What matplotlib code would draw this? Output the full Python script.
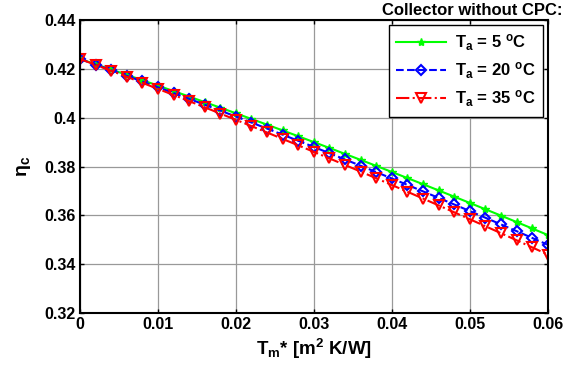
import matplotlib
matplotlib.use("Agg")
import matplotlib.pyplot as plt

plt.rcParams['font.family'] = ['Liberation Sans', 'DejaVu Sans']
plt.rcParams['mathtext.fontset'] = 'custom'
plt.rcParams['mathtext.rm'] = 'Liberation Sans:bold'
plt.rcParams['mathtext.it'] = 'Liberation Sans:bold'
plt.rcParams['mathtext.bf'] = 'Liberation Sans:bold'

x_tm = [0.000, 0.002, 0.004, 0.006, 0.008, 0.010, 0.012, 0.014, 0.016, 0.018,
        0.020, 0.022, 0.024, 0.026, 0.028, 0.030, 0.032, 0.034, 0.036, 0.038,
        0.040, 0.042, 0.044, 0.046, 0.048, 0.050, 0.052, 0.054, 0.056, 0.058, 0.060]

eta_5 = [0.4240, 0.42186, 0.41970, 0.41752, 0.41532, 0.41311, 0.41088, 0.40863,
         0.40636, 0.40408, 0.40178, 0.39946, 0.39712, 0.39476, 0.39239, 0.39000,
         0.38759, 0.38516, 0.38272, 0.38026, 0.37778, 0.37528, 0.37277, 0.37023,
         0.36768, 0.36511, 0.36252, 0.35992, 0.35730, 0.35466, 0.35200]

eta_20 = [0.4240, 0.42173, 0.41943, 0.41712, 0.41479, 0.41244, 0.41008, 0.40770,
          0.40529, 0.40288, 0.40045, 0.39799, 0.39552, 0.39303, 0.39052, 0.38800,
          0.38546, 0.38289, 0.38032, 0.37773, 0.37511, 0.37248, 0.36984, 0.36716,
          0.36448, 0.36178, 0.35905, 0.35632, 0.35357, 0.35079, 0.34800]

eta_35 = [0.4240, 0.42159, 0.41917, 0.41672, 0.41425, 0.41178, 0.40928, 0.40676,
          0.40423, 0.40168, 0.39911, 0.39653, 0.39392, 0.39129, 0.38866, 0.38600,
          0.38332, 0.38063, 0.37792, 0.37519, 0.37245, 0.36968, 0.36690, 0.36410,
          0.36128, 0.35844, 0.35559, 0.35272, 0.34983, 0.34693, 0.34400]

labels = [r'T$_\mathregular{a}$ = 5 $^\mathregular{o}$C',
          r'T$_\mathregular{a}$ = 20 $^\mathregular{o}$C',
          r'T$_\mathregular{a}$ = 35 $^\mathregular{o}$C']
xticks = [0, 0.01, 0.02, 0.03, 0.04, 0.05, 0.06]
xtick_labels = ['0', '0.01', '0.02', '0.03', '0.04', '0.05', '0.06']
yticks = [0.32, 0.34, 0.36, 0.38, 0.40, 0.42, 0.44]
ytick_labels = ['0.32', '0.34', '0.36', '0.38', '0.4', '0.42', '0.44']

fig = plt.figure(figsize=(5.67, 3.68), dpi=100)
ax = fig.add_axes([0.141, 0.149, 0.825, 0.797])

ax.plot(x_tm, eta_5, color='#00ff00', linestyle='-', linewidth=1.5,
        marker='*', markersize=6, label=labels[0])
ax.plot(x_tm, eta_20, color='#0000ff', linestyle='--', linewidth=1.5,
        marker='D', markersize=5.5, markerfacecolor='none', markeredgewidth=1.5,
        label=labels[1])
ax.plot(x_tm, eta_35, color='#ff0000', linestyle='-.', linewidth=1.5,
        marker='v', markersize=7.5, markerfacecolor='none', markeredgewidth=1.5,
        label=labels[2])

ax.set_xlim(0, 0.06)
ax.set_ylim(0.32, 0.44)
ax.set_xticks(xticks)
ax.set_xticklabels(xtick_labels, fontsize=11.5, fontweight='bold')
ax.set_yticks(yticks)
ax.set_yticklabels(ytick_labels, fontsize=11.5, fontweight='bold')
ax.tick_params(direction='in', length=3, width=1, pad=3)
ax.tick_params(top=True, right=True)
ax.grid(True, color='#999999', linewidth=0.9)
for s in ax.spines.values():
    s.set_linewidth(1.5)

ax.set_xlabel(r'T$_\mathregular{m}$* [m$^\mathregular{2}$ K/W]', fontsize=13.5,
              fontweight='bold', labelpad=3)
ax.set_ylabel(r'$\mathregular{\eta_c}$', fontsize=14, fontweight='bold', labelpad=8)

fig.text(0.992, 0.992, 'Collector without CPC:', ha='right', va='top',
         fontsize=12, fontweight='bold')

leg = ax.legend(loc='upper right', prop={'weight': 'bold', 'size': 12},
                fancybox=False, edgecolor='black', framealpha=1,
                borderaxespad=0.3, handlelength=3.0, labelspacing=0.45,
                handletextpad=0.5, borderpad=0.45)
leg.get_frame().set_linewidth(1.0)

fig.savefig('out.png', dpi=100)
